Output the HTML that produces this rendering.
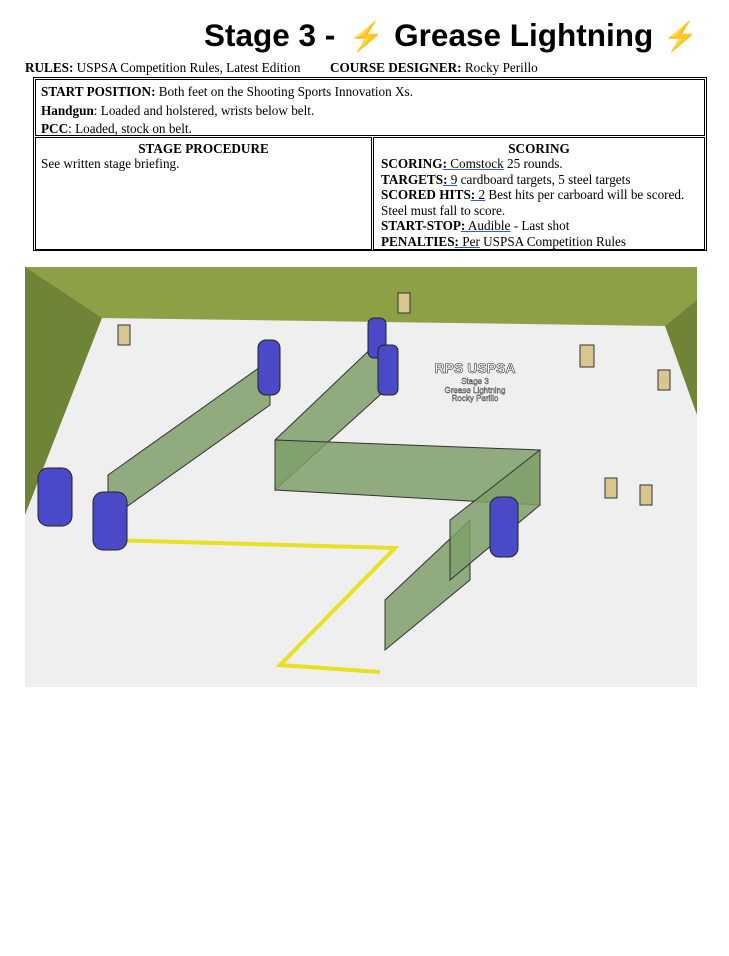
<!DOCTYPE html>
<html><head><meta charset="utf-8"><style>
body{margin:0;background:#fff;width:729px;height:956px;position:relative;overflow:hidden;font-family:"Liberation Serif",serif;font-size:13.2px;color:#000}
.a{position:absolute;white-space:nowrap}
h1{position:absolute;margin:0;left:204px;top:17px;font:bold 31.5px "Liberation Sans",sans-serif}
.e{color:#f47b3a;font-size:28px;margin:0 10px 0 14px}
.u{text-decoration:underline;text-decoration-color:#2a5cd8}
</style></head><body>
<h1>Stage 3 -<span class="e">⚡</span>Grease Lightning<span class="e" style="margin:0 0 0 10px">⚡</span></h1>
<div class="a" style="left:25px;top:60px"><b>RULES:</b> USPSA Competition Rules, Latest Edition</div>
<div class="a" style="left:330px;top:60px"><b>COURSE DESIGNER:</b> Rocky Perillo</div>
<div class="a" style="left:33px;top:77px;width:672px;height:172px;border:1px solid #000"></div>
<div class="a" style="left:35px;top:79px;width:668px;height:55px;border:1px solid #000"></div>
<div class="a" style="left:35px;top:137px;width:335px;height:111px;border:1px solid #000"></div>
<div class="a" style="left:373px;top:137px;width:330px;height:111px;border:1px solid #000"></div>
<div class="a" style="left:41px;top:83px;line-height:18.5px"><b>START POSITION:</b> Both feet on the Shooting Sports Innovation Xs.<br><b>Handgun</b>: Loaded and holstered, wrists below belt.<br><b>PCC</b>: Loaded, stock on belt.</div>
<div class="a" style="left:35px;width:337px;top:141px;text-align:center"><b>STAGE PROCEDURE</b></div>
<div class="a" style="left:41px;top:156px">See written stage briefing.</div>
<div class="a" style="left:373px;width:332px;top:141px;text-align:center"><b>SCORING</b></div>
<div class="a" style="left:381px;top:156px;line-height:15.5px"><b>SCORING</b><span class="u"><b>:</b> Comstock</span> 25 rounds.<br><b>TARGETS</b><span class="u"><b>:</b> 9</span> cardboard targets, 5 steel targets<br><b>SCORED HITS</b><span class="u"><b>:</b> 2</span> Best hits per carboard will be scored.<br>Steel must fall to score.<br><b>START-STOP</b><span class="u"><b>:</b> Audible</span> - Last shot<br><b>PENALTIES</b><span class="u"><b>:</b> Per</span> USPSA Competition Rules</div>
<svg class="a" style="left:25px;top:267px" width="672" height="420" viewBox="25 267 672 420">
<rect x="25" y="267" width="672" height="420" fill="#8ea046"/>
<polygon points="25,267 102,318 25,515" fill="#6f8436"/>
<polygon points="697,300 665,326 697,415" fill="#6f8436"/>
<polygon points="25,687 25,515 102,318 665,326 697,415 697,687" fill="#efefef"/>
<g fill="#7f9f6a" fill-opacity=".85" stroke="#333" stroke-width="1">
<polygon points="108,475 270,360 270,405 108,520"/>
<polygon points="275,440 380,340 380,395 275,490"/>
<polygon points="275,440 540,450 540,505 275,490"/>
<polygon points="385,600 470,520 470,580 385,650"/>
<polygon points="450,520 540,450 540,505 450,580"/>
</g>
<polyline points="108,540 395,548 280,665 380,672" fill="none" stroke="#e8e020" stroke-width="4"/>
<g fill="#4a4ac8" stroke="#222">
<rect x="38" y="468" width="34" height="58" rx="10"/>
<rect x="93" y="492" width="34" height="58" rx="10"/>
<rect x="258" y="340" width="22" height="55" rx="8"/>
<rect x="368" y="318" width="18" height="40" rx="6"/>
<rect x="378" y="345" width="20" height="50" rx="6"/>
<rect x="490" y="497" width="28" height="60" rx="9"/>
</g>
<text x="475" y="373" text-anchor="middle" font-family="Liberation Sans" font-weight="bold" font-size="14" fill="#fff" stroke="#333" stroke-width=".6">RPS USPSA</text>
<text x="475" y="384" text-anchor="middle" font-family="Liberation Sans" font-size="8" fill="#fff" stroke="#333" stroke-width=".4">Stage 3</text>
<text x="475" y="393" text-anchor="middle" font-family="Liberation Sans" font-size="8" fill="#fff" stroke="#333" stroke-width=".4">Grease Lightning</text>
<text x="475" y="401" text-anchor="middle" font-family="Liberation Sans" font-size="8" fill="#fff" stroke="#333" stroke-width=".4">Rocky Perillo</text>
<g fill="#d8c690" stroke="#333">
<rect x="580" y="345" width="14" height="22"/><rect x="605" y="478" width="12" height="20"/><rect x="640" y="485" width="12" height="20"/><rect x="118" y="325" width="12" height="20"/><rect x="398" y="293" width="12" height="20"/><rect x="658" y="370" width="12" height="20"/>
</g>
</svg>
</body></html>
